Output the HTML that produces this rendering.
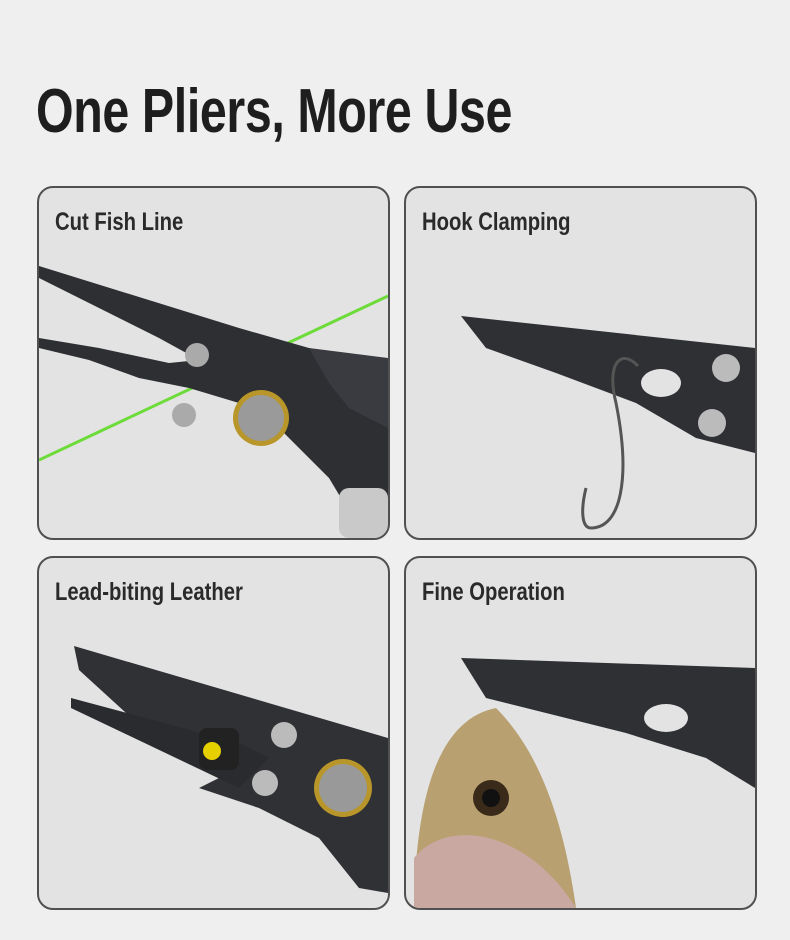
<!DOCTYPE html>
<html><head><meta charset="utf-8"><style>
body{margin:0;width:790px;height:940px;background:#efefef;position:relative;overflow:hidden;font-family:"Liberation Sans",sans-serif}
h1{position:absolute;left:36px;top:76px;margin:0;font-size:62px;font-weight:bold;color:#1e1e1e;letter-spacing:-0.5px;white-space:nowrap;transform:scaleX(0.78);transform-origin:0 0}
.p{position:absolute;width:349px;height:350px;border:2px solid #505050;border-radius:16px;background:#e3e3e3;overflow:hidden}
.p span{position:absolute;left:16px;top:20px;font-size:25px;font-weight:bold;color:#2a2a2a;white-space:nowrap;z-index:2;transform:scaleX(0.81);transform-origin:0 0}
.p svg{position:absolute;left:0;top:0}
</style></head><body>
<h1>One Pliers, More Use</h1>

<div class="p" style="left:37px;top:186px"><span>Cut Fish Line</span>
<svg width="349" height="350">
<line x1="0" y1="272" x2="349" y2="108" stroke="#6ddc3a" stroke-width="3"/>
<polygon points="0,78 200,140 270,160 330,175 349,190 349,340 320,340 290,290 240,240 200,215 150,200 100,190 50,172 0,160 0,150 60,160 130,175 160,172 120,150 60,120 0,90" fill="#2e2f33"/>
<polygon points="270,160 349,170 349,240 310,220 290,195" fill="#3a3b40"/>
<circle cx="222" cy="230" r="28" fill="#b8962a"/><circle cx="222" cy="230" r="23" fill="#9a9a9a"/>
<circle cx="158" cy="167" r="12" fill="#aaa"/><circle cx="145" cy="227" r="12" fill="#aaa"/>
<rect x="300" y="300" width="49" height="50" rx="10" fill="#c9c9c9"/>
</svg></div>

<div class="p" style="left:404px;top:186px"><span>Hook Clamping</span>
<svg width="349" height="350">
<polygon points="55,128 349,160 349,265 290,250 230,215 150,185 80,160" fill="#2f3034"/>
<circle cx="320" cy="180" r="14" fill="#bbb"/><circle cx="306" cy="235" r="14" fill="#bbb"/>
<ellipse cx="255" cy="195" rx="20" ry="14" fill="#e3e3e3"/>
<path d="M232,178 C215,160 200,175 210,215 C225,290 215,340 185,340 C175,340 175,320 180,300" stroke="#555" stroke-width="3" fill="none"/>
</svg></div>

<div class="p" style="left:37px;top:556px"><span>Lead-biting Leather</span>
<svg width="349" height="350">
<polygon points="35,88 349,180 349,335 320,330 280,280 220,250 160,230 190,215 120,185 40,112" fill="#303135"/>
<polygon points="32,140 200,185 230,200 200,230 32,150" fill="#2a2b2f"/>
<rect x="160" y="170" width="40" height="42" rx="8" fill="#222"/><circle cx="173" cy="193" r="9" fill="#e6d000"/>
<circle cx="245" cy="177" r="13" fill="#bbb"/><circle cx="226" cy="225" r="13" fill="#bbb"/>
<circle cx="304" cy="230" r="29" fill="#b8962a"/><circle cx="304" cy="230" r="24" fill="#999"/>
</svg></div>

<div class="p" style="left:404px;top:556px"><span>Fine Operation</span>
<svg width="349" height="350">
<polygon points="55,100 349,110 349,230 300,200 220,175 140,155 80,140" fill="#2f3034"/>
<ellipse cx="260" cy="160" rx="22" ry="14" fill="#e3e3e3"/>
<path d="M90,150 C40,160 10,220 8,350 L170,350 C160,280 140,200 90,150 Z" fill="#b8a070"/>
<path d="M8,300 C40,260 120,270 170,350 L8,350 Z" fill="#c8a8a0"/>
<circle cx="85" cy="240" r="18" fill="#3a2a1a"/><circle cx="85" cy="240" r="9" fill="#111"/>
</svg></div>
</body></html>
